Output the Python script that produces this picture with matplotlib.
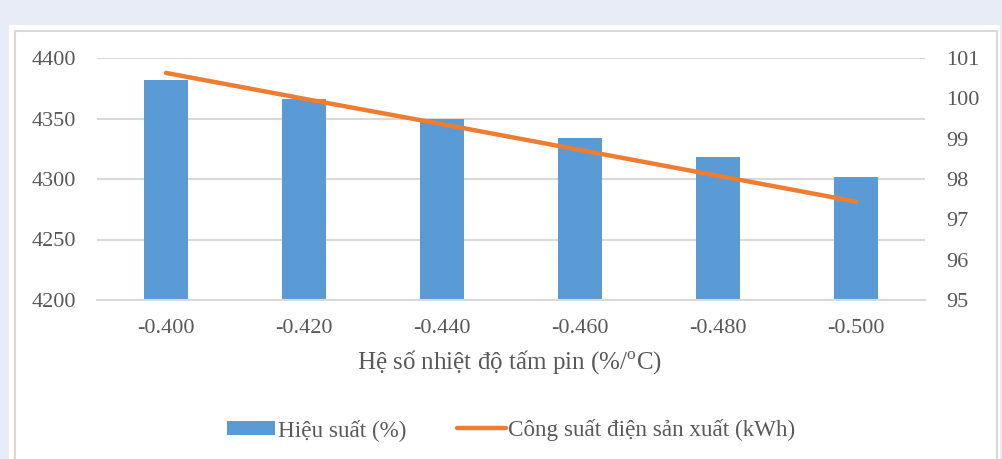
import matplotlib
matplotlib.use('Agg')
import matplotlib.pyplot as plt
from matplotlib.patches import Rectangle

plt.rcParams['font.family'] = ['Liberation Serif', 'DejaVu Serif']
plt.rcParams['mathtext.fontset'] = 'custom'
plt.rcParams['mathtext.rm'] = 'Liberation Serif'

# data
coefficients = ['-0.400', '-0.420', '-0.440', '-0.460', '-0.480', '-0.500']
bar_values = [4382, 4366, 4350, 4334, 4318, 4302]
line_values = [100.63, 99.99, 99.36, 98.72, 98.08, 97.44]
left_ticks = [4200, 4250, 4300, 4350, 4400]
right_ticks = [95, 96, 97, 98, 99, 100, 101]

BLUE = '#5B9BD5'
ORANGE = '#ED7D31'
TEXT = '#595959'
GRID = '#D9D9D9'

W, H = 1002, 459
fig = plt.figure(figsize=(W / 100, H / 100), dpi=100)
fig.patch.set_facecolor('#E8ECF6')

# white panel with thin grey frame
fig.patches.append(Rectangle((9 / W, 0), 991 / W, 1 - 25 / H, transform=fig.transFigure,
                             facecolor='white', edgecolor='none', zorder=-10))
fig.patches.append(Rectangle((15 / W, -0.05), 982 / W, 1.05 - 31 / H, transform=fig.transFigure,
                             facecolor='none', edgecolor=GRID, linewidth=1.5, zorder=-9))

ax = fig.add_axes([97 / W, 1 - 300 / H, 828 / W, 242 / H])
ax.set_facecolor('none')
x = list(range(len(coefficients)))
ax.bar(x, bar_values, width=0.32, color=BLUE, zorder=2, label='Hiệu suất (%)')
ax.set_ylim(4200, 4400)
ax.set_yticks(left_ticks)
ax.set_xlim(-0.5, len(coefficients) - 0.5)
ax.set_xticks(x)
ax.set_xticklabels(coefficients)
ax.grid(axis='y', color=GRID, linewidth=1.5, zorder=0)
ax.set_axisbelow(True)
for s in ['top', 'left', 'right']:
    ax.spines[s].set_visible(False)
ax.spines['bottom'].set_color(GRID)
ax.spines['bottom'].set_linewidth(1.5)
ax.tick_params(axis='both', length=0, labelsize=16, colors=TEXT)
ax.tick_params(axis='y', pad=15)
ax.tick_params(axis='x', pad=14)

ax2 = ax.twinx()
ax2.plot(x, line_values, color=ORANGE, linewidth=3.2, solid_capstyle='round',
         label='Công suất điện sản xuất (kWh)')
ax2.set_ylim(95, 101)
ax2.set_yticks(right_ticks)
for s in ax2.spines.values():
    s.set_visible(False)
ax2.tick_params(axis='y', length=0, labelsize=16, colors=TEXT, pad=15)

fig.text(510 / W, 1 - 362 / H, 'Hệ số nhiệt độ tấm pin (%/$^{\\mathrm{o}}$C)',
         ha='center', va='center', fontsize=18, color=TEXT)

h1, l1 = ax.get_legend_handles_labels()
h2, l2 = ax2.get_legend_handles_labels()
leg = fig.legend(h1 + h2, l1 + l2, loc='center', bbox_to_anchor=(511 / W, 1 - 430 / H),
                 ncol=2, frameon=False, fontsize=16.7, handlelength=2.1, handleheight=0.55,
                 handletextpad=0.1, columnspacing=2.2, labelcolor=TEXT)

fig.savefig('out.png', dpi=100, facecolor=fig.get_facecolor())
